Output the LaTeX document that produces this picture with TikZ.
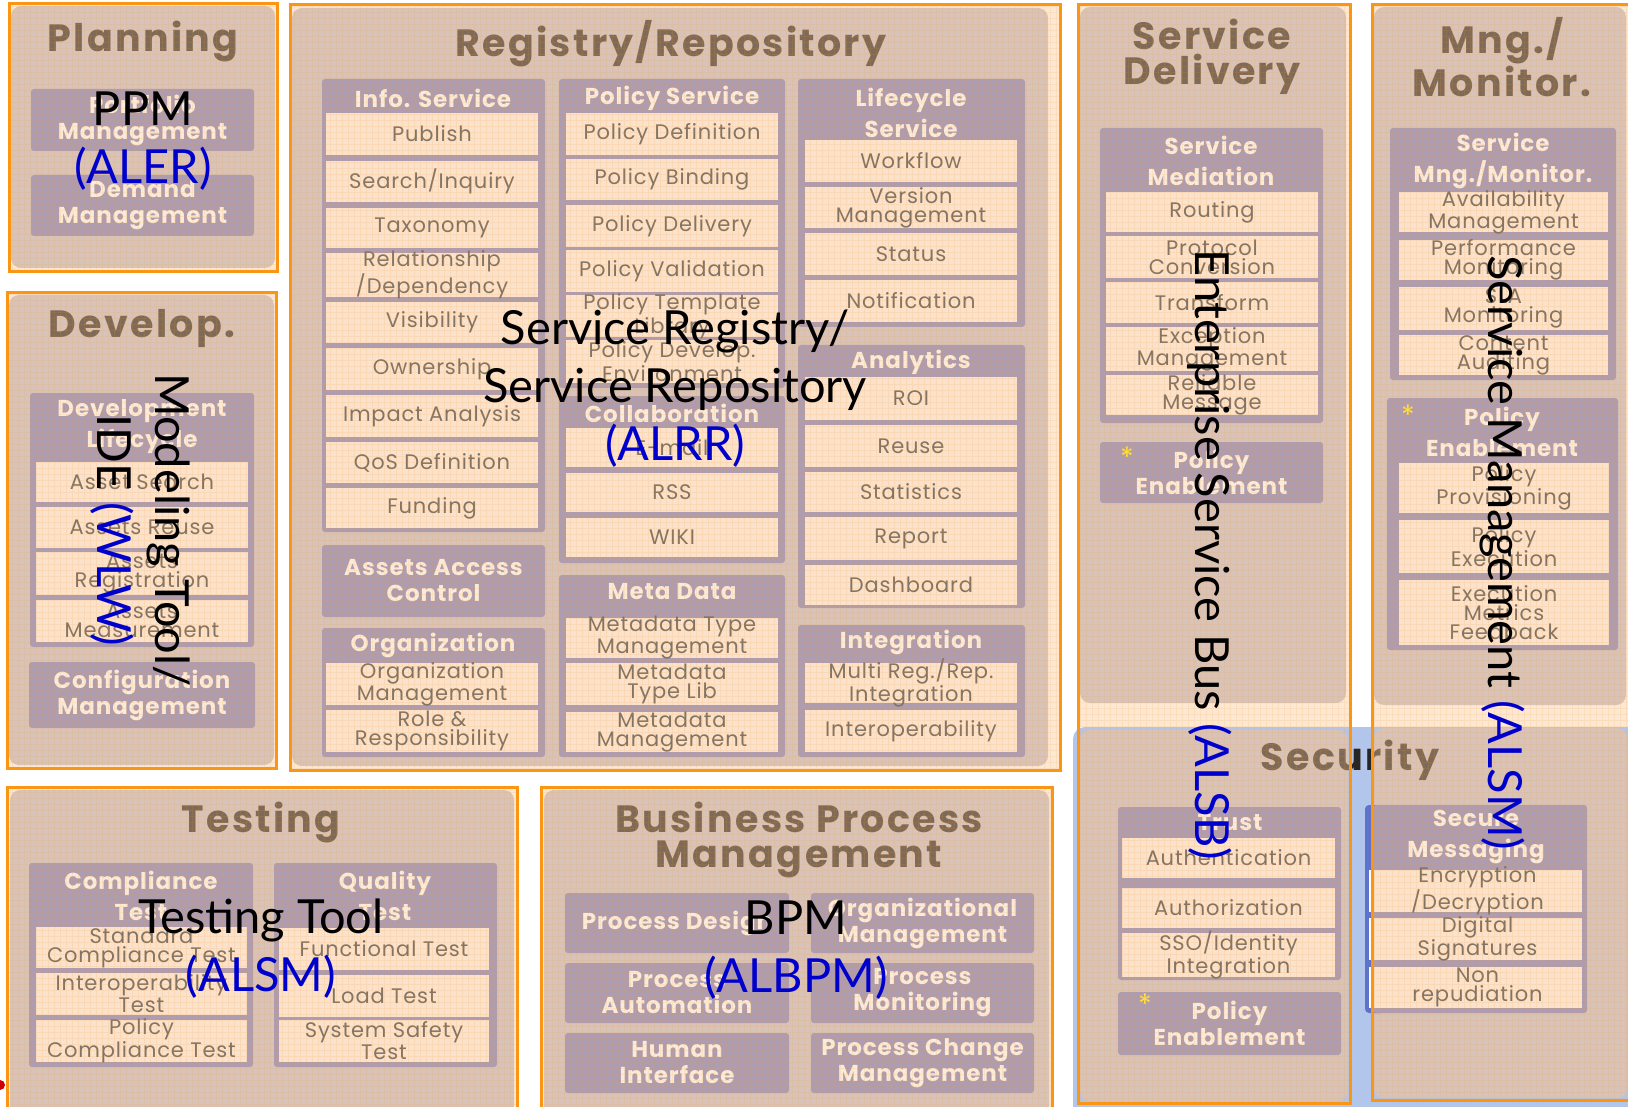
\documentclass[tikz,border=0pt]{standalone}
\usepackage{fontspec}
\setmainfont{Lato}
\newfontfamily\popf[LetterSpace=4]{Poppins}
\newfontfamily\popt[LetterSpace=6]{Poppins}
\definecolor{obord}{RGB}{250,150,20}
\definecolor{peach}{RGB}{253,232,212}
\definecolor{panel}{RGB}{216,195,187}
\definecolor{hdr}{RGB}{172,157,180}
\definecolor{itemc}{RGB}{250,226,205}
\definecolor{hdrtxt}{RGB}{250,234,218}
\definecolor{itemtxt}{RGB}{128,116,104}
\definecolor{ttl}{RGB}{126,106,88}
\definecolor{secblue}{RGB}{178,198,235}
\definecolor{secdark}{RGB}{95,115,205}
\definecolor{ovblue}{RGB}{0,0,205}
\definecolor{starc}{RGB}{255,225,60}
\newcommand\ibx[6]{\fill[itm] (#2,#3) rectangle (#4,#5); \node[ittxt] (#1) at ({(#2+#4)/2},{(#3+#5)/2}) {#6};}
\newcommand\hbx[6]{\fill[cont] (#2,#3) rectangle (#4,#5); \node[hdtxt] (#1) at ({(#2+#4)/2},{(#3+#5)/2}) {#6};}
\begin{document}
\begin{tikzpicture}[x=0.5pt,y=-0.5pt,
  oline/.style={draw=obord, line width=1.5pt},
  pnl/.style={fill=panel, rounded corners=5pt},
  cont/.style={fill=hdr, rounded corners=1.5pt},
  itm/.style={fill=itemc},
  ttltxt/.style={text=ttl, font=\popt\bfseries\fontsize{19}{17.5}\selectfont, align=center, inner sep=0},
  hdtxt/.style={text=hdrtxt, font=\popf\bfseries\fontsize{11.5}{13}\selectfont, align=center, inner sep=0},
  hdtxtL/.style={hdtxt, font=\popf\bfseries\fontsize{11.5}{15.5}\selectfont},
  ittxt/.style={text=itemtxt, font=\popf\fontsize{10.5}{9.5}\selectfont, align=center, inner sep=0},
  startxt/.style={text=starc, font=\popf\fontsize{14}{14}\selectfont, inner sep=0},
  ovl/.style={text=black, font=\fontsize{23.5}{29}\selectfont, align=center, inner sep=0}]
\clip (0,0) rectangle (1628,1107);
\fill[white] (0,0) rectangle (1628,1107);
% security background
\fill[secblue, rounded corners=6pt] (1073,727) rectangle (1660,1130);
% base fills
\fill[peach] (9,4) rectangle (277,272);
\fill[peach] (7,293) rectangle (276,768);
\fill[peach] (290,5) rectangle (1060,770);
\fill[peach] (1078,5) rectangle (1350,727);
\fill[peach] (1372,5) rectangle (1660,727);
\fill[peach] (7,787) rectangle (517,1130);
\fill[peach] (541,787) rectangle (1052,1130);
% panels
\fill[pnl] (11,6) rectangle (275,268);
\fill[pnl] (9,295) rectangle (274,765);
\fill[pnl] (292,8) rectangle (1048,766);
\fill[pnl] (1080,7) rectangle (1346,703);
\fill[pnl] (1080,730) rectangle (1348,1101);
\fill[pnl] (1374,7) rectangle (1626,705);
\fill[pnl] (1374,728) rectangle (1627,1098);
\fill[pnl] (10,790) rectangle (514,1130);
\fill[pnl] (544,790) rectangle (1049,1130);
\fill[red!80!black] (0,1085) circle (5);

% ---------- Planning
\node[ttltxt] (tplan) at (143,42) {Planning};
\hbx{pm}{31}{89}{254}{151}{Portfolio\\Management}
\hbx{dm}{31}{175}{254}{236}{Demand\\Management}

% ---------- Develop
\node[ttltxt] (tdev) at (142,328) {Develop.};
\fill[cont] (30,393) rectangle (254,647);
\node[hdtxtL] (hdl) at (142,427) {Development\\Lifecycle};
\ibx{as}{36}{462}{248}{502}{Asset Search}
\ibx{ar}{36}{507}{248}{548}{Assets Reuse}
\ibx{ag}{36}{552}{248}{595}{Assets\\Registration}
\ibx{am}{36}{600}{248}{642}{Assets\\Measurement}
\hbx{cfg}{29}{662}{255}{728}{Configuration\\Management}

% ---------- Registry / Repository
\node[ttltxt] (treg) at (671,44) {Registry/Repository};
\fill[cont] (322,79) rectangle (545,532);
\node[hdtxt] (hinfo) at (433,98) {Info. Service};
\ibx{i1}{326}{113}{538}{155}{Publish}
\ibx{i2}{326}{161}{538}{202}{Search/Inquiry}
\ibx{i3}{326}{208}{538}{248}{Taxonomy}
\ibx{i4}{326}{253}{538}{297}{Relationship\\/Dependency}
\ibx{i5}{326}{302}{538}{343}{Visibility}
\ibx{i6}{326}{348}{538}{390}{Ownership}
\ibx{i7}{326}{395}{538}{437}{Impact Analysis}
\ibx{i8}{326}{442}{538}{483}{QoS Definition}
\ibx{i9}{326}{488}{538}{528}{Funding}
\hbx{aac}{322}{545}{545}{617}{Assets Access\\Control}
\fill[cont] (322,628) rectangle (545,757);
\node[hdtxt] (horg) at (433,645) {Organization};
\ibx{om}{326}{663}{538}{705}{Organization\\Management}
\ibx{rr}{326}{710}{538}{752}{Role \&\\Responsibility}

\fill[cont] (559,79) rectangle (785,388);
\node[hdtxt] (hpol) at (672,98) {Policy Service};
\ibx{p1}{566}{113}{778}{155}{Policy Definition}
\ibx{p2}{566}{159}{778}{200}{Policy Binding}
\ibx{p3}{566}{205}{778}{247}{Policy Delivery}
\ibx{p4}{566}{250}{778}{292}{Policy Validation}
\ibx{p5}{566}{295}{778}{337}{Policy Template\\Library}
\ibx{p6}{566}{340}{778}{383}{Policy Develop.\\Environment}
\fill[cont] (559,396) rectangle (785,563);
\node[hdtxt] (hcol) at (672,413) {Collaboration};
\ibx{c1}{566}{428}{778}{467}{E-mail}
\ibx{c2}{566}{473}{778}{512}{RSS}
\ibx{c3}{566}{518}{778}{557}{WIKI}
\fill[cont] (559,575) rectangle (785,757);
\node[hdtxt] (hmeta) at (672,592) {Meta Data};
\ibx{m1}{566}{618}{778}{658}{Metadata Type\\Management}
\ibx{m2}{566}{663}{778}{705}{Metadata\\Type Lib}
\ibx{m3}{566}{712}{778}{752}{Metadata\\Management}

\fill[cont] (798,79) rectangle (1025,327);
\node[hdtxtL] (hlc) at (911,113) {Lifecycle\\Service};
\ibx{l1}{805}{140}{1017}{182}{Workflow}
\ibx{l2}{805}{187}{1017}{228}{Version\\Management}
\ibx{l3}{805}{233}{1017}{275}{Status}
\ibx{l4}{805}{280}{1017}{322}{Notification}
\fill[cont] (798,345) rectangle (1025,608);
\node[hdtxt] (hana) at (911,362) {Analytics};
\ibx{a1}{805}{377}{1017}{420}{ROI}
\ibx{a2}{805}{425}{1017}{467}{Reuse}
\ibx{a3}{805}{472}{1017}{512}{Statistics}
\ibx{a4}{805}{517}{1017}{560}{Report}
\ibx{a5}{805}{565}{1017}{605}{Dashboard}
\fill[cont] (798,625) rectangle (1025,757);
\node[hdtxt] (hint) at (911,642) {Integration};
\ibx{n1}{805}{663}{1017}{703}{Multi Reg./Rep.\\Integration}
\ibx{n2}{805}{710}{1017}{752}{Interoperability}

% ---------- Service Delivery
\node[ttltxt] (tsd) at (1212,57) {Service\\Delivery};
\fill[cont] (1100,128) rectangle (1323,423);
\node[hdtxtL] (hsm) at (1211,161) {Service\\Mediation};
\ibx{s1}{1106}{192}{1318}{232}{Routing}
\ibx{s2}{1106}{236}{1318}{278}{Protocol\\Conversion}
\ibx{s3}{1106}{282}{1318}{323}{Transform}
\ibx{s4}{1106}{327}{1318}{371}{Exception\\Management}
\ibx{s5}{1106}{375}{1318}{415}{Reliable\\Message}
\hbx{pe1}{1100}{442}{1323}{503}{Policy\\Enablement}
\node[startxt] (st1) at (1127,457) {*};

% ---------- Mng./Monitor.
\node[ttltxt] (tmm) at (1502,57) {Mng./\\Monitor.};
\fill[cont] (1390,128) rectangle (1616,380);
\node[hdtxtL] (hsmm) at (1503,161) {Service\\Mng./Monitor.};
\ibx{k1}{1399}{192}{1608}{232}{Availability\\Management}
\ibx{k2}{1399}{240}{1608}{280}{Performance\\Monitoring}
\ibx{k3}{1399}{287}{1608}{330}{SLA\\Monitoring}
\ibx{k4}{1399}{335}{1608}{375}{Content\\Auditing}
\fill[cont] (1387,398) rectangle (1618,650);
\node[hdtxtL] (hpe2) at (1502,432) {Policy\\Enablement};
\node[startxt] (st2) at (1408,415) {*};
\ibx{q1}{1399}{463}{1609}{513}{Policy\\Provisioning}
\ibx{q2}{1399}{520}{1609}{573}{Policy\\Execution}
\ibx{q3}{1399}{580}{1609}{645}{Execution\\Metrics\\Feedback}

% ---------- Security
\node[ttltxt] (tsec) at (1350,760) {Security};
\begin{scope}
\clip (1350,735) rectangle (1372,800);
\node[ttltxt, text=black!85] (tsecb) at (1350,760) {Security};
\end{scope}
\fill[cont] (1118,807) rectangle (1341,980);
\node[hdtxt] (htr) at (1230,823) {Trust};
\ibx{t1}{1122}{838}{1335}{878}{Authentication}
\ibx{t2}{1122}{888}{1335}{928}{Authorization}
\ibx{t3}{1122}{933}{1335}{977}{SSO/Identity\\Integration}
\hbx{pe3}{1118}{992}{1341}{1055}{Policy\\Enablement}
\node[startxt] (st3) at (1145,1004) {*};
\fill[secdark, rounded corners=2pt] (1365,805) rectangle (1385,1013);
\fill[cont] (1373,805) rectangle (1587,1013);
\node[hdtxtL] (hsec) at (1476,837) {Secure\\Messaging};
\fill[white] (1369,870) rectangle (1373,912);
\fill[white] (1369,918) rectangle (1373,960);
\fill[white] (1369,967) rectangle (1373,1008);
\ibx{e1}{1373}{870}{1582}{912}{Encryption\\/Decryption}
\ibx{e2}{1373}{918}{1582}{960}{Digital\\Signatures}
\ibx{e3}{1373}{967}{1582}{1008}{Non\\repudiation}

% ---------- Testing
\node[ttltxt] (ttest) at (261,823) {Testing};
\fill[cont] (29,863) rectangle (253,1067);
\node[hdtxtL] (hct) at (141,896) {Compliance\\Test};
\ibx{x1}{36}{927}{247}{968}{Standard\\Compliance Test}
\ibx{x2}{36}{973}{247}{1015}{Interoperability\\Test}
\ibx{x3}{36}{1020}{247}{1062}{Policy\\Compliance Test}
\fill[cont] (274,863) rectangle (497,1067);
\node[hdtxtL] (hqt) at (385,896) {Quality\\Test};
\ibx{y1}{279}{928}{489}{970}{Functional Test}
\ibx{y2}{279}{975}{489}{1017}{Load Test}
\ibx{y3}{279}{1020}{489}{1062}{System Safety\\Test}

% ---------- BPM
\node[ttltxt] (tbpm) at (799,840) {Business Process\\Management};
\hbx{b1}{565}{893}{789}{953}{Process Design}
\hbx{b2}{811}{893}{1034}{953}{Organizational\\Management}
\hbx{b3}{565}{963}{789}{1023}{Process\\Automation}
\hbx{b4}{811}{963}{1034}{1023}{Process\\Monitoring}
\hbx{b5}{565}{1033}{789}{1093}{Human\\Interface}
\hbx{b6}{811}{1033}{1034}{1093}{Process Change\\Management}

% ---------- faint orange grid of the overlays
\begin{scope}
\clip (9,4) rectangle (277,272) (7,293) rectangle (276,768) (290,5) rectangle (1060,770)
      (1078,5) rectangle (1350,1103) (1372,5) rectangle (1660,1100)
      (7,787) rectangle (517,1130) (541,787) rectangle (1052,1130);
\draw[obord, opacity=0.13, line width=0.25pt, step=3pt] (0,1107) grid (1628,0);
\end{scope}

% ---------- orange frames
\draw[oline] (9,4) rectangle (277,272);
\draw[oline] (7,293) rectangle (276,768);
\draw[oline] (290,5) rectangle (1060,770);
\draw[oline] (1078,5) rectangle (1350,1103);
\draw[oline] (1372,5) rectangle (1660,1100);
\draw[oline] (7,787) rectangle (517,1130);
\draw[oline] (541,787) rectangle (1052,1130);

% ---------- overlay labels
\node[ovl] (ppm) at (143,141) {PPM\\\textcolor{ovblue}{(ALER)}};
\node[ovl, rotate=-90] (mtool) at (140,530) {Modeling Tool/\\IDE \textcolor{ovblue}{(WLW)}};
\node[ovl] (srr) at (675,389) {Service Registry/\\Service Repository\\\textcolor{ovblue}{(ALRR)}};
\node[ovl, rotate=-90] (esb) at (1210,555) {Enterprise Service Bus \textcolor{ovblue}{(ALSB)}};
\node[ovl, rotate=-90] (smg) at (1502,553) {Service Management \textcolor{ovblue}{(ALSM)}};
\node[ovl] (ttool) at (261,949) {Testing Tool\\\textcolor{ovblue}{(ALSM)}};
\node[ovl] (bpmt) at (796,950) {BPM\\\textcolor{ovblue}{(ALBPM)}};
\end{tikzpicture}
\end{document}
